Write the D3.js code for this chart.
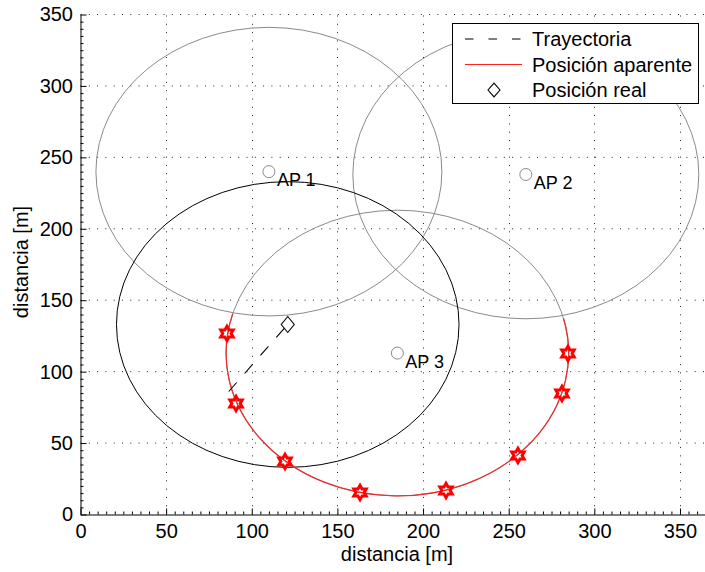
<!DOCTYPE html>
<html><head><meta charset="utf-8">
<script src="https://cdn.jsdelivr.net/npm/d3@7"></script>
<style>
html,body{margin:0;padding:0;background:#fff;}
text{font-family:"Liberation Sans",Arial,Helvetica,sans-serif;}
</style></head>
<body>
<svg id="c" width="705" height="572"></svg>
<script>
// ---- data ----
const apNames = ["AP 1", "AP 2", "AP 3"];
const apX = [110, 260, 185];
const apY = [240, 238, 113];
const apR = [101, 101, 100];
const realX = [121];
const realY = [133];
const realR = [100];
const trajX = [85, 121];
const trajY = [84, 133];
// apparent-position arc follows circle of AP 3 between these polar angles (deg)
const arcFromDeg = [164];
const arcToDeg = [374];
const markX = [85.5, 90.8, 119.4, 163.2, 213.4, 255.4, 281.1, 284.6];
const markY = [126.7, 77.7, 37.1, 15.4, 16.8, 41.3, 84.7, 112.7];
const xTicks = [0, 50, 100, 150, 200, 250, 300, 350];
const yTicks = [0, 50, 100, 150, 200, 250, 300, 350];
const legendLabels = ["Trayectoria", "Posición aparente", "Posición real"];

// ---- layout ----
const svg = d3.select("#c");
const x = d3.scaleLinear().domain([0, 370]).range([80.5, 80.5 + 370 * 1.7128]);
const y = d3.scaleLinear().domain([0, 350]).range([514.5, 14.5]);
const X0 = x(0), X1 = 705, Y0 = y(0), Y1 = y(350);

// grid
const grid = svg.append("g").attr("stroke", "#222").attr("stroke-width", 1).attr("stroke-dasharray", "1,7.3");
grid.selectAll(".gx").data(xTicks.filter(d => d > 0)).enter().append("line")
  .attr("x1", d => Math.round(x(d)) + 0.5).attr("x2", d => Math.round(x(d)) + 0.5)
  .attr("y1", Y0).attr("y2", Y1);
grid.selectAll(".gy").data(yTicks.filter(d => d > 0)).enter().append("line")
  .attr("y1", d => y(d)).attr("y2", d => y(d))
  .attr("x1", X0).attr("x2", X1);

// axes
const minorX = d3.range(0, 371, 5).filter(d => d % 50 !== 0);
const minorY = d3.range(0, 351, 5).filter(d => d % 50 !== 0);
const fontSize = 20;
const gx = svg.append("g").attr("transform", `translate(0,${Y0})`)
  .call(d3.axisBottom(x).tickValues(xTicks).tickSizeInner(-6).tickSizeOuter(0).tickPadding(9.5).tickFormat(d3.format("d")));
gx.append("g").call(d3.axisBottom(x).tickValues(minorX).tickSizeInner(-3).tickSizeOuter(0).tickFormat(""))
  .select(".domain").remove();
const gy = svg.append("g").attr("transform", `translate(${X0},0)`)
  .call(d3.axisLeft(y).tickValues(yTicks).tickSizeInner(-6).tickSizeOuter(0).tickPadding(7.5).tickFormat(d3.format("d")));
gy.append("g").call(d3.axisLeft(y).tickValues(minorY).tickSizeInner(-3).tickSizeOuter(0).tickFormat(""))
  .select(".domain").remove();
svg.selectAll(".tick text").attr("font-size", fontSize).attr("font-family", "Liberation Sans, Arial, sans-serif").attr("fill", "#000");
svg.selectAll(".domain, .tick line").attr("stroke", "#000");

// axis labels
svg.append("text").attr("x", 397).attr("y", 561).attr("text-anchor", "middle")
  .attr("font-size", fontSize).text("distancia [m]");
svg.append("text").attr("transform", "translate(28,262) rotate(-90)").attr("text-anchor", "middle")
  .attr("font-size", fontSize).text("distancia [m]");

// plot content
const plot = svg.append("g");
const sx = r => x(r) - x(0);
const sy = r => y(0) - y(r);

// gray AP circles
plot.selectAll(".apc").data(apX).enter().append("ellipse")
  .attr("cx", (d, i) => x(apX[i])).attr("cy", (d, i) => y(apY[i]))
  .attr("rx", (d, i) => sx(apR[i])).attr("ry", (d, i) => sy(apR[i]))
  .attr("fill", "none").attr("stroke", "#8a8a8a").attr("stroke-width", 1);

// black circle around real position
plot.append("ellipse").attr("cx", x(realX[0])).attr("cy", y(realY[0]))
  .attr("rx", sx(realR[0])).attr("ry", sy(realR[0]))
  .attr("fill", "none").attr("stroke", "#000").attr("stroke-width", 1);

// red apparent-position arc (on AP 3 circle)
{
  const cx = apX[2], cy = apY[2], r = apR[2];
  const a0 = arcFromDeg[0] * Math.PI / 180, a1 = arcToDeg[0] * Math.PI / 180;
  const p0 = [x(cx + r * Math.cos(a0)), y(cy + r * Math.sin(a0))];
  const p1 = [x(cx + r * Math.cos(a1)), y(cy + r * Math.sin(a1))];
  const large = (arcToDeg[0] - arcFromDeg[0]) > 180 ? 1 : 0;
  plot.append("path")
    .attr("d", `M${p0[0]},${p0[1]} A${sx(r)},${sy(r)} 0 ${large} 0 ${p1[0]},${p1[1]}`)
    .attr("fill", "none").attr("stroke", "#e83030").attr("stroke-width", 1.3);
}

// hexagram markers
function hexagram(R) {
  const rin = R / Math.sqrt(3);
  const pts = [];
  for (let k = 0; k < 12; k++) {
    const a = (-90 + k * 30) * Math.PI / 180;
    const rr = k % 2 === 0 ? R : rin;
    pts.push([rr * Math.cos(a), rr * Math.sin(a)]);
  }
  return "M" + pts.map(p => p.join(",")).join("L") + "Z";
}
plot.selectAll(".hx").data(markX).enter().append("path")
  .attr("d", hexagram(7.2))
  .attr("transform", (d, i) => `translate(${x(markX[i])},${y(markY[i])})`)
  .attr("fill", "none").attr("stroke", "#ff0000").attr("stroke-width", 3)
  .attr("stroke-linejoin", "miter").attr("stroke-miterlimit", 3);

// trajectory dashed line
plot.append("path")
  .attr("d", d3.line().x((d, i) => x(trajX[i])).y((d, i) => y(trajY[i]))(trajX))
  .attr("fill", "none").attr("stroke", "#000").attr("stroke-width", 1.1)
  .attr("stroke-dasharray", "12,12").attr("stroke-dashoffset", -4);

// real position diamond
function diamond(w, h) { return `M0,${-h}L${w},0L0,${h}L${-w},0Z`; }
plot.selectAll(".rp").data(realX).enter().append("path")
  .attr("d", diamond(6.5, 8))
  .attr("transform", (d, i) => `translate(${x(realX[i])},${y(realY[i])})`)
  .attr("fill", "#fff").attr("stroke", "#000").attr("stroke-width", 1.1);

// AP markers and labels
plot.selectAll(".apm").data(apX).enter().append("circle")
  .attr("cx", (d, i) => x(apX[i])).attr("cy", (d, i) => y(apY[i])).attr("r", 6)
  .attr("fill", "none").attr("stroke", "#8a8a8a").attr("stroke-width", 1);
plot.selectAll(".apl").data(apNames).enter().append("text")
  .attr("x", (d, i) => x(apX[i]) + 8).attr("y", (d, i) => y(apY[i]) + 14.5)
  .attr("font-size", 18).attr("fill", "#000").text(d => d);

// legend
const lg = svg.append("g");
lg.append("rect").attr("x", 452.5).attr("y", 23.5).attr("width", 246).attr("height", 80)
  .attr("fill", "#fff").attr("stroke", "#000").attr("stroke-width", 1);
const rowY = [39, 64.5, 90];
lg.append("line").attr("x1", 465).attr("x2", 522).attr("y1", rowY[0]).attr("y2", rowY[0])
  .attr("stroke", "#000").attr("stroke-width", 1).attr("stroke-dasharray", "8.5,15");
lg.append("line").attr("x1", 465).attr("x2", 522).attr("y1", rowY[1]).attr("y2", rowY[1])
  .attr("stroke", "#ff2020").attr("stroke-width", 1.2);
lg.append("path").attr("d", diamond(6, 6.8)).attr("transform", `translate(494,${rowY[2]})`)
  .attr("fill", "#fff").attr("stroke", "#000").attr("stroke-width", 1.1);
lg.selectAll(".lt").data(legendLabels).enter().append("text")
  .attr("x", 532).attr("y", (d, i) => rowY[i] + 7.3)
  .attr("font-size", fontSize).attr("fill", "#000").text(d => d);
</script>
</body></html>
